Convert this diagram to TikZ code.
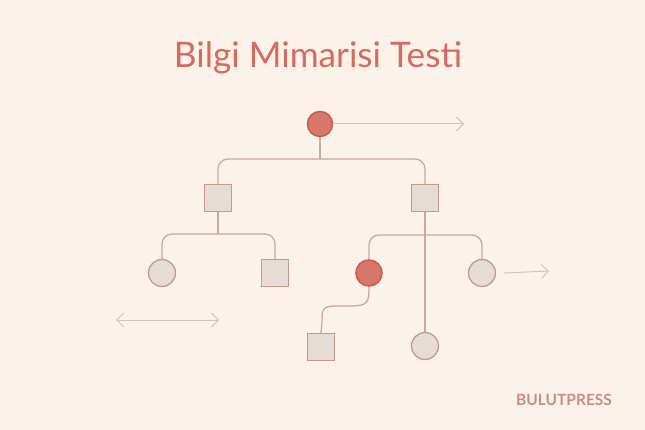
\documentclass[tikz,border=0pt]{standalone}
\usepackage{fontspec}
\setmainfont{Lato}
\newfontfamily\titlefont{Lato}
\usetikzlibrary{arrows.meta,patterns}
\definecolor{bg}{HTML}{FBF3E9}
\definecolor{titlered}{HTML}{D9695F}
\definecolor{lin}{HTML}{C9A8A0}
\definecolor{shapestroke}{HTML}{C9958C}
\definecolor{shapefill}{HTML}{EAE2DB}
\definecolor{hatch}{HTML}{DDD2CB}
\definecolor{redfill}{HTML}{D7776A}
\definecolor{redstroke}{HTML}{D05A4F}
\definecolor{arrowcol}{HTML}{D3C2BD}
\definecolor{brand}{HTML}{C98E80}
\tikzset{
  conn/.style={draw=lin, line width=1.3pt, rounded corners=10pt},
  hatched/.style={preaction={fill=shapefill}, preaction={pattern=north east lines, pattern color=hatch}},
  sq/.style={draw=shapestroke, hatched, line width=1.3pt, minimum size=27pt, inner sep=0pt},
  circ/.style={circle, draw=shapestroke, hatched, line width=1.3pt, minimum size=27pt, inner sep=0pt},
  redcirc/.style={circle, draw=redstroke, fill=redfill, line width=1.6pt, minimum size=25pt, inner sep=0pt},
  farrow/.style={draw=arrowcol, line width=1pt, -{Straight Barb[length=7pt,width=14pt]}},
}
\begin{document}
\begin{tikzpicture}[x=1pt,y=-1pt]
\fill[bg] (0,0) rectangle (645,430);
\useasboundingbox (0,0) rectangle (645,430);
\node[text=titlered, font=\titlefont\fontsize{35.2}{38}\selectfont] (title) at (318,58) {Bilgi Mimarisi Testi};
\node[text=brand, font=\fontsize{15.5}{17}\selectfont\bfseries] (brand) at (564,400) {BULUTPRESS};

\node[redcirc] (root) at (320,124) {};
\node[sq] (sl) at (218,198) {};
\node[sq] (sr) at (425,198) {};
\node[circ] (c1) at (162,273) {};
\node[sq] (s1) at (275,273) {};
\node[redcirc, minimum size=26pt] (c2) at (369,273) {};
\node[circ] (c3) at (482,273) {};
\node[sq] (s2) at (321,347) {};
\node[circ] (c4) at (425,346) {};

\coordinate (ra) at (464,124);
\coordinate (rb) at (549,271);
\coordinate (da) at (116,320);
\coordinate (db) at (219,320);

\draw[farrow] (root.east) -- (ra);
\draw[farrow] ([xshift=8pt]c3.east) -- (rb);
\draw[draw=arrowcol, line width=1pt, {Straight Barb[length=7pt,width=14pt]}-{Straight Barb[length=7pt,width=14pt]}] (da) -- (db);

\draw[conn] (root.south) -- (320,159);
\draw[conn] (sl.north) -- (218,159) -- (425,159) -- (sr.north);
\draw[conn] (sl.south) -- (218,234);
\draw[conn] (c1.north) -- (162,234) -- (275,234) -- (s1.north);
\draw[conn] (c2.north) -- (369,235) -- (482,235) -- (c3.north);
\draw[conn] (sr.south) -- (c4.north);
\draw[draw=lin, line width=1.3pt] (c2.south) -- (369,291) .. controls (369,305) and (364,306) .. (348,306) -- (336,306) .. controls (322,306) and (322,310) .. (322,322) -- (s2.north);
\end{tikzpicture}
\end{document}
